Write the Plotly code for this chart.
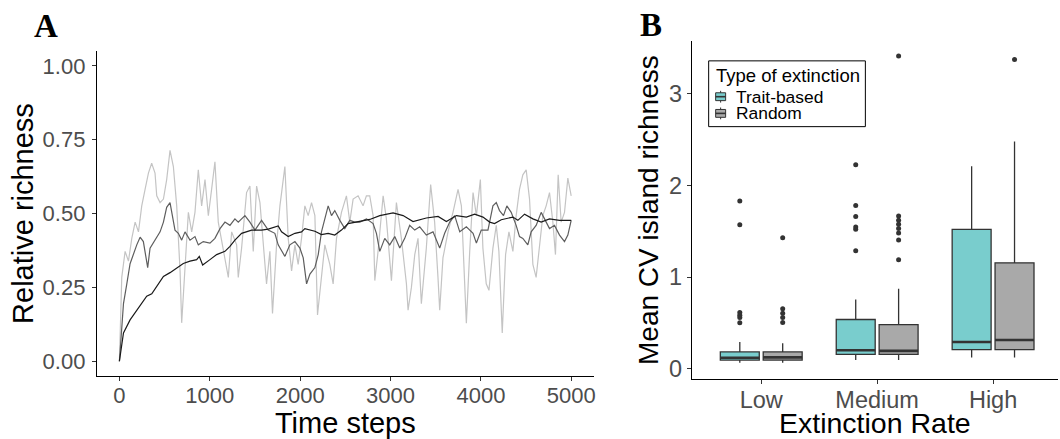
import plotly.graph_objects as go

# ---------------- Panel A data ----------------
light_t = [0, 26, 63, 100, 137, 174, 211, 247, 284, 321, 357, 394, 413, 450, 487, 523, 560, 597, 634, 671,
           689, 726, 763, 800, 836, 873, 910, 947, 984, 1020, 1057, 1094, 1150, 1205, 1242, 1297, 1315, 1352,
           1407, 1444, 1481, 1518, 1555, 1592, 1628, 1665, 1694, 1739, 1776, 1831, 1868, 1905, 1942, 1978,
           2015, 2052, 2089, 2126, 2163, 2192, 2236, 2273, 2328, 2365, 2402, 2457, 2512, 2549, 2586, 2641,
           2696, 2733, 2770, 2807, 2826, 2862, 2918, 2954, 3010, 3065, 3120, 3176, 3194, 3231, 3268, 3304,
           3341, 3396, 3444, 3488, 3525, 3544, 3580, 3636, 3691, 3747, 3784, 3839, 3876, 3913, 3950, 3994,
           4022, 4059, 4089, 4133, 4170, 4199, 4236, 4273, 4310, 4354, 4390, 4427, 4464, 4501, 4538, 4575,
           4611, 4648, 4685, 4722, 4759, 4796, 4825, 4855, 4888, 4925, 4962, 4999]
light_v = [0.0, 0.284, 0.372, 0.339, 0.416, 0.471, 0.438, 0.526, 0.582, 0.637, 0.67, 0.637, 0.56, 0.537,
           0.549, 0.615, 0.714, 0.659, 0.526, 0.306, 0.13, 0.306, 0.504, 0.438, 0.504, 0.648, 0.526, 0.615,
           0.493, 0.582, 0.675, 0.471, 0.383, 0.284, 0.438, 0.394, 0.284, 0.383, 0.571, 0.593, 0.372, 0.593,
           0.537, 0.383, 0.262, 0.372, 0.162, 0.394, 0.526, 0.659, 0.416, 0.306, 0.394, 0.328, 0.416, 0.526,
           0.493, 0.537, 0.493, 0.157, 0.284, 0.394, 0.328, 0.262, 0.416, 0.504, 0.56, 0.471, 0.549, 0.56,
           0.526, 0.56, 0.56, 0.493, 0.273, 0.372, 0.56, 0.482, 0.273, 0.537, 0.416, 0.262, 0.173, 0.25,
           0.361, 0.416, 0.195, 0.383, 0.598, 0.471, 0.284, 0.173, 0.35, 0.438, 0.504, 0.582, 0.526, 0.129,
           0.372, 0.571, 0.493, 0.615, 0.383, 0.262, 0.24, 0.383, 0.46, 0.372, 0.096, 0.361, 0.438, 0.372,
           0.493, 0.582, 0.631, 0.648, 0.549, 0.328, 0.284, 0.394, 0.493, 0.526, 0.571, 0.471, 0.361, 0.631,
           0.471, 0.504, 0.62, 0.56]

mid_t = [0, 45, 81, 118, 192, 229, 265, 313, 339, 394, 450, 487, 523, 560, 578, 615, 652, 689, 726, 781,
         836, 873, 928, 1002, 1057, 1113, 1168, 1223, 1278, 1315, 1389, 1444, 1500, 1573, 1647, 1720, 1757,
         1831, 1886, 1942, 1997, 2034, 2071, 2108, 2163, 2200, 2236, 2310, 2347, 2383, 2439, 2494, 2549,
         2604, 2660, 2734, 2807, 2844, 2881, 2936, 2991, 3047, 3102, 3157, 3212, 3268, 3323, 3396, 3470,
         3544, 3599, 3655, 3710, 3766, 3839, 3913, 3950, 4004, 4078, 4133, 4170, 4206, 4250, 4287, 4335,
         4390, 4427, 4464, 4519, 4556, 4611, 4667, 4704, 4759, 4814, 4870, 4925, 4962, 4999]
mid_v = [0.0, 0.195, 0.26, 0.33, 0.394, 0.42, 0.405, 0.317, 0.383, 0.41, 0.438, 0.471, 0.521, 0.537, 0.504,
         0.444, 0.433, 0.41, 0.438, 0.41, 0.422, 0.394, 0.405, 0.40, 0.416, 0.449, 0.471, 0.46, 0.482, 0.471,
         0.493, 0.471, 0.444, 0.477, 0.444, 0.433, 0.394, 0.355, 0.394, 0.405, 0.383, 0.35, 0.262, 0.295,
         0.317, 0.361, 0.438, 0.526, 0.493, 0.51, 0.477, 0.449, 0.477, 0.471, 0.471, 0.482, 0.466, 0.433,
         0.372, 0.416, 0.394, 0.422, 0.383, 0.416, 0.46, 0.444, 0.455, 0.427, 0.438, 0.383, 0.433, 0.471,
         0.493, 0.438, 0.455, 0.433, 0.40, 0.444, 0.444, 0.526, 0.537, 0.51, 0.493, 0.526, 0.504, 0.46,
         0.422, 0.416, 0.394, 0.438, 0.46, 0.504, 0.482, 0.449, 0.46, 0.427, 0.405, 0.427, 0.477]

dark_t = [0, 45, 118, 192, 265, 302, 358, 450, 487, 560, 634, 707, 781, 855, 884, 921, 1002, 1076, 1168,
          1223, 1278, 1352, 1463, 1573, 1647, 1757, 1794, 1868, 1942, 2015, 2052, 2163, 2236, 2310, 2383,
          2457, 2531, 2604, 2715, 2770, 2881, 3028, 3139, 3249, 3396, 3526, 3618, 3729, 3839, 3931, 4023,
          4097, 4151, 4225, 4354, 4409, 4483, 4575, 4667, 4759, 4870, 4999]
dark_v = [0.0, 0.096, 0.14, 0.173, 0.206, 0.22, 0.228, 0.273, 0.287, 0.30, 0.317, 0.331, 0.339, 0.344,
          0.355, 0.326, 0.344, 0.361, 0.372, 0.389, 0.41, 0.433, 0.444, 0.444, 0.447, 0.458, 0.438, 0.422,
          0.433, 0.438, 0.449, 0.44, 0.429, 0.433, 0.427, 0.444, 0.466, 0.471, 0.477, 0.48, 0.493, 0.502,
          0.493, 0.473, 0.485, 0.49, 0.473, 0.493, 0.488, 0.498, 0.488, 0.471, 0.466, 0.479, 0.488, 0.477,
          0.498, 0.482, 0.471, 0.482, 0.477, 0.477]

time_ticks = [0, 1000, 2000, 3000, 4000, 5000]
rich_ticks = [0.0, 0.25, 0.5, 0.75, 1.0]

# ---------------- Panel B data ----------------
categories = ["Low", "Medium", "High"]
trait_lo = [0.068, 0.096, 0.125]
trait_q1 = [0.096, 0.157, 0.21]
trait_med = [0.121, 0.203, 0.292]
trait_q3 = [0.185, 0.538, 1.519]
trait_hi = [0.292, 0.756, 2.207]
trait_out = [[1.83, 1.57, 0.613, 0.585, 0.56, 0.503],
             [2.225, 1.78, 1.66, 1.545, 1.52, 1.287],
             []]
random_lo = [0.068, 0.096, 0.125]
random_q1 = [0.096, 0.157, 0.21]
random_med = [0.125, 0.196, 0.314]
random_q3 = [0.185, 0.481, 1.155]
random_hi = [0.28, 0.873, 2.478]
random_out = [[1.43, 0.656, 0.606, 0.56, 0.506],
              [3.41, 1.665, 1.62, 1.576, 1.53, 1.48, 1.405, 1.19],
              [3.37]]
cv_ticks = [0, 1, 2, 3]
legend_title = "Type of extinction"
legend_names = ["Trait-based", "Random"]

# ---------------- styling ----------------
W, H = 1060, 439
FONT = "Liberation Sans, Arial, sans-serif"
SERIF = "Liberation Serif, Times New Roman, serif"
TICKC = "#4D4D4D"
LINEC = "#333333"
DODGE = 0.185
BOXW = 0.336
FILLS = ["#79CDCD", "#A9A9A9"]


def px_x(x):
    return x / W


def px_y(y):
    return 1 - y / H


fig = go.Figure()

for t, v, c in [(light_t, light_v, "#C4C4C4"), (mid_t, mid_v, "#5E5E5E"), (dark_t, dark_v, "#1A1A1A")]:
    fig.add_trace(go.Scatter(x=t, y=v, mode="lines", line=dict(color=c, width=1.2),
                             showlegend=False, hoverinfo="skip", xaxis="x", yaxis="y"))

groups = [
    (legend_names[0], -DODGE, FILLS[0], trait_lo, trait_q1, trait_med, trait_q3, trait_hi, trait_out),
    (legend_names[1], DODGE, FILLS[1], random_lo, random_q1, random_med, random_q3, random_hi, random_out),
]
for name, off, fill, lo, q1, med, q3, hi, outs in groups:
    pos = [i + 1 + off for i in range(len(categories))]
    fig.add_trace(go.Box(name=name, x=pos, lowerfence=lo, q1=q1, median=med, q3=q3, upperfence=hi,
                         width=BOXW, whiskerwidth=0, fillcolor=fill, showlegend=False,
                         line=dict(color=LINEC, width=1.3), xaxis="x2", yaxis="y2",
                         hoverinfo="skip"))
    mx, my = [], []
    for p, m in zip(pos, med):
        mx += [p - BOXW / 2, p + BOXW / 2, None]
        my += [m, m, None]
    fig.add_trace(go.Scatter(x=mx, y=my, mode="lines", line=dict(color=LINEC, width=2.6),
                             showlegend=False, hoverinfo="skip", xaxis="x2", yaxis="y2"))
    ox, oy = [], []
    for p, o in zip(pos, outs):
        ox += [p] * len(o)
        oy += o
    fig.add_trace(go.Scatter(x=ox, y=oy, mode="markers", marker=dict(color=LINEC, size=5),
                             showlegend=False, hoverinfo="skip", xaxis="x2", yaxis="y2"))

axis_common = dict(showline=True, linecolor="black", linewidth=1, ticks="outside", ticklen=4,
                   tickcolor=LINEC, tickwidth=1, showgrid=False, zeroline=False)
fa = dict(family=FONT, size=22, color=TICKC)
fb = dict(family=FONT, size=23.5, color=TICKC)

# ---- hand-built legend (ggplot style) ----
shapes = [dict(type="rect", xref="paper", yref="paper", x0=px_x(710), x1=px_x(867), y0=px_y(129),
               y1=px_y(62), line=dict(color="black", width=1), fillcolor="white", layer="above")]
annotations = [
    dict(text="<b>A</b>", x=px_x(46), y=px_y(26), xref="paper", yref="paper", showarrow=False,
         xanchor="center", yanchor="middle", font=dict(family=SERIF, size=33, color="black")),
    dict(text="<b>B</b>", x=px_x(652), y=px_y(25), xref="paper", yref="paper", showarrow=False,
         xanchor="center", yanchor="middle", font=dict(family=SERIF, size=33, color="black")),
    dict(text=legend_title, x=px_x(715), y=px_y(77), xref="paper", yref="paper", showarrow=False,
         xanchor="left", yanchor="middle", font=dict(family=FONT, size=18.5, color="black")),
]
for k, (nm, fc) in enumerate(zip(legend_names, FILLS)):
    cy = 98.5 + 17 * k
    shapes.append(dict(type="line", xref="paper", yref="paper", x0=px_x(722), x1=px_x(722),
                       y0=px_y(cy + 6), y1=px_y(cy - 6), line=dict(color=LINEC, width=1), layer="above"))
    shapes.append(dict(type="rect", xref="paper", yref="paper", x0=px_x(717), x1=px_x(727),
                       y0=px_y(cy + 4), y1=px_y(cy - 4), line=dict(color=LINEC, width=1),
                       fillcolor=fc, layer="above"))
    shapes.append(dict(type="line", xref="paper", yref="paper", x0=px_x(717), x1=px_x(727),
                       y0=px_y(cy), y1=px_y(cy), line=dict(color=LINEC, width=1.6), layer="above"))
    annotations.append(dict(text=nm, x=px_x(735), y=px_y(cy), xref="paper", yref="paper",
                            showarrow=False, xanchor="left", yanchor="middle",
                            font=dict(family=FONT, size=17.4, color="black")))

fig.update_layout(
    width=W, height=H,
    margin=dict(l=0, r=0, t=0, b=0),
    paper_bgcolor="white", plot_bgcolor="white",
    font=dict(family=FONT, color="black"),
    boxmode="overlay",
    showlegend=False,
    xaxis=dict(domain=[px_x(97), px_x(595)], range=[-250, 5250], tickvals=time_ticks, tickfont=fa,
               ticklabelstandoff=-4,
               title=dict(text="Time steps", font=dict(family=FONT, size=29), standoff=6),
               anchor="y", **axis_common),
    yaxis=dict(domain=[px_y(383), px_y(52)], range=[-0.05, 1.05], tickvals=rich_ticks, tickformat=".2f",
               tickfont=fa, ticklabelstandoff=2,
               title=dict(text="Relative richness", font=dict(family=FONT, size=29), standoff=0),
               anchor="x", **axis_common),
    xaxis2=dict(domain=[px_x(693), 1.0], range=[0.4, 3.56], tickvals=[1, 2, 3], ticktext=categories,
                tickfont=fb, ticklabelstandoff=-4,
                title=dict(text="Extinction Rate", font=dict(family=FONT, size=28.5), standoff=6),
                anchor="y2", **axis_common),
    yaxis2=dict(domain=[px_y(386), px_y(42)], range=[-0.11, 3.57], tickvals=cv_ticks, tickfont=fb,
                title=dict(text="Mean CV island richness", font=dict(family=FONT, size=28), standoff=2),
                anchor="x2", **axis_common),
    shapes=shapes,
    annotations=annotations,
)

fig.write_html("out.html", config={"displayModeBar": False},
               post_script="document.body.style.margin='0';document.body.style.overflow='hidden';")
